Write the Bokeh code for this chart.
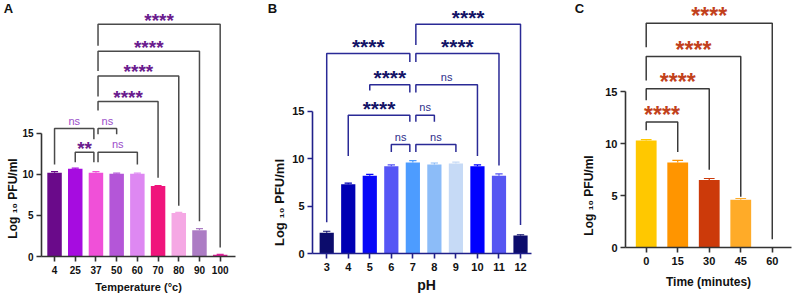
import math
from bokeh.plotting import figure
from bokeh.layouts import row
from bokeh.models import Range1d, FixedTicker, ColumnDataSource, Label
from bokeh.core.properties import value
from bokeh.embed import file_html
from bokeh.resources import INLINE

FONT = "Liberation Sans"
H = 293

# ---------------- Panel A : temperature ----------------
temp_labels = ["4", "25", "37", "50", "60", "70", "80", "90", "100"]
temp_values = [10.2, 10.7, 10.2, 10.1, 10.1, 8.6, 5.3, 3.2, 0.2]
temp_errors = [0.15, 0.08, 0.15, 0.05, 0.05, 0.05, 0.07, 0.2, 0.05]
temp_colors = ["#6a0a8a", "#a60ce0", "#f050d8", "#b456d8", "#de88f2",
               "#f0157c", "#f5a8e4", "#ac7cc4", "#e0209a"]
temp_pairs = [("37", "100"), ("37", "90"), ("37", "80"), ("37", "70"),
              ("4", "37"), ("37", "50"), ("25", "37"), ("37", "60")]
temp_marks = ["****", "****", "****", "****", "ns", "ns", "**", "ns"]
temp_levels = [28.3, 25.0, 22.0, 18.9, 15.6, 15.6, 12.7, 12.7]
temp_left_ends = [25.7, 22.6, 19.5, 17.8, 11.2, 14.9, 11.5, 11.5]
temp_right_ends = [1.1, 4.3, 6.2, 9.6, 14.3, 14.9, 11.5, 11.2]

# ---------------- Panel B : pH ----------------
ph_labels = ["3", "4", "5", "6", "7", "8", "9", "10", "11", "12"]
ph_values = [2.2, 7.3, 8.2, 9.2, 9.6, 9.4, 9.5, 9.2, 8.2, 1.9]
ph_errors = [0.15, 0.12, 0.15, 0.15, 0.2, 0.15, 0.15, 0.15, 0.2, 0.08]
ph_colors = ["#0c0c6c", "#0000b4", "#0808f8", "#5555f5", "#4d9cff",
             "#8cbcf8", "#c6daf6", "#0000ff", "#5656f2", "#0c0c6c"]
ph_pairs = [("7", "12"), ("3", "7"), ("7", "11"), ("5", "7"), ("7", "10"),
            ("4", "7"), ("7", "8"), ("6", "7"), ("7", "9")]
ph_marks = ["****", "****", "****", "****", "ns", "****", "ns", "ns", "ns"]
ph_levels = [24.2, 21.1, 21.1, 17.8, 17.8, 14.6, 14.6, 11.5, 11.5]
ph_left_ends = [22.0, 3.3, 20.2, 17.2, 17.0, 10.3, 13.9, 10.7, 10.7]
ph_right_ends = [3.0, 20.2, 9.3, 17.0, 10.3, 13.9, 13.9, 10.7, 10.7]

# ---------------- Panel C : time ----------------
time_labels = ["0", "15", "30", "45", "60"]
time_values = [10.3, 8.2, 6.5, 4.6, 0.0]
time_errors = [0.1, 0.2, 0.15, 0.12, 0.0]
time_colors = ["#ffc800", "#ff9500", "#cc3a0a", "#ffab28", "#ffc800"]
time_pairs = [("0", "60"), ("0", "45"), ("0", "30"), ("0", "15")]
time_marks = ["****", "****", "****", "****"]
time_levels = [21.6, 18.4, 15.3, 12.1]
time_left_ends = [19.3, 16.1, 14.2, 11.3]
time_right_ends = [0.8, 4.9, 7.5, 9.2]

Y_LABEL = "Log \u2081\u2080 PFU/ml"


def txt(p, text, x, y_from_top, size, angle=0.0):
    p.add_layout(Label(x=x, y=y_from_top, x_units="canvas",
                       y_units="canvas", text=text, angle=angle,
                       text_font=FONT, text_font_style="bold",
                       text_font_size=size, text_align="center",
                       text_baseline="middle", text_color="#111111"))


def panel(letter, cats, vals, errs, colors, pairs, marks, levels, lefts, rights,
          xlabel, cfg):
    # plot area: left edge bl, right edge width-br, bottom H-bb (pixels)
    fw = cfg["width"] - cfg["bl"] - cfg["br"]
    fh = H - cfg["bb"]
    ux = (cfg["x1"] - cfg["x0"]) / fw
    uy = cfg["y1"] / fh
    p = figure(width=cfg["width"], height=H, output_backend="svg",
               toolbar_location=None, min_border=0,
               x_range=Range1d(cfg["x0"] - cfg["bl"] * ux,
                               cfg["x1"] + cfg["br"] * ux),
               y_range=Range1d(-cfg["bb"] * uy, cfg["y1"]))
    p.outline_line_color = None
    p.grid.visible = False
    p.background_fill_color = "white"
    p.border_fill_color = "white"

    idx = list(range(len(cats)))
    src = ColumnDataSource(dict(x=idx, top=vals,
                                up=[v + e for v, e in zip(vals, errs)],
                                cl=[i - 0.17 for i in idx],
                                cr=[i + 0.17 for i in idx],
                                color=colors))
    p.vbar(x="x", top="top", width=cfg["bw"], fill_color="color",
           line_color=None, source=src)
    p.segment(x0="x", y0="top", x1="x", y1="up", line_color="color",
              line_width=1.2, source=src)
    p.segment(x0="cl", y0="up", x1="cr", y1="up", line_color="color",
              line_width=1.2, source=src)

    # significance brackets
    pos = {c: i for i, c in enumerate(cats)}
    piv = cfg["pivot"]
    off = cfg["off"]
    xs, ys, lx, ly, lt = [], [], [], [], []
    for (a, b), m, lev, le, re in zip(pairs, marks, levels, lefts, rights):
        xa = pos[a] + (off if a == piv else 0)
        xb = pos[b] - (off if b == piv else 0)
        xs.append([xa, xa, xb, xb])
        ys.append([le, lev, lev, re])
        lx.append((xa + xb) / 2)
        ly.append(lev)
        lt.append(m)
    p.multi_line(xs=xs, ys=ys, line_color=cfg["bracket"], line_width=1.5)

    stars = ColumnDataSource(dict(
        x=[x for x, t in zip(lx, lt) if t != "ns"],
        y=[y for y, t in zip(ly, lt) if t != "ns"],
        t=[t for t in lt if t != "ns"]))
    nss = ColumnDataSource(dict(
        x=[x for x, t in zip(lx, lt) if t == "ns"],
        y=[y for y, t in zip(ly, lt) if t == "ns"],
        t=[t for t in lt if t == "ns"]))
    p.text(x="x", y="y", text="t", source=stars, text_font=value(FONT),
           text_font_style="bold", text_font_size=cfg["starsize"],
           text_align="center", text_baseline="alphabetic",
           text_color=cfg["starcolor"], y_offset=cfg["staroff"])
    p.text(x="x", y="y", text="t", source=nss, text_font=value(FONT),
           text_font_size="11px", text_align="center",
           text_baseline="alphabetic", text_color=cfg["nscolor"],
           y_offset=-8)

    # axes, pinned at the plot-area edges
    ax = cfg["axis"]
    p.xaxis.ticker = FixedTicker(ticks=idx)
    p.xaxis.major_label_overrides = {i: c for i, c in enumerate(cats)}
    p.xaxis.fixed_location = 0
    p.xaxis.bounds = (cfg["x0"], cfg["x1"])
    p.yaxis.ticker = FixedTicker(ticks=[0, 5, 10, 15])
    p.yaxis.fixed_location = cfg["x0"]
    p.yaxis.bounds = (0, 15)
    for a in (p.xaxis, p.yaxis):
        a.axis_line_color = ax
        a.axis_line_width = 1.6
        a.major_tick_line_color = ax
        a.major_tick_line_width = 1.6
        a.major_tick_in = 0
        a.major_tick_out = 5
        a.minor_tick_in = 0
        a.minor_tick_out = 0
        a.major_label_text_font = FONT
        a.major_label_text_font_style = "bold"
        a.major_label_text_font_size = cfg["ticksize"]
        a.major_label_text_color = "#111111"
        a.major_label_standoff = 3
    p.xaxis.major_label_standoff = cfg["xtickstand"]

    # axis titles (centred on the 0-15 axis span, as in the original) and letter
    txt(p, Y_LABEL, cfg["ylab_x"], cfg["ylab_y"], cfg["ylabsize"], math.pi / 2)
    txt(p, xlabel, cfg["xlab_x"], cfg["xlab_y"], cfg["xlabsize"])
    txt(p, letter, cfg["letter_x"], 8, "13px")
    return p


pa = panel("A", temp_labels, temp_values, temp_errors, temp_colors,
           temp_pairs, temp_marks, temp_levels, temp_left_ends, temp_right_ends,
           "Temperature (\u00b0c)",
           dict(width=262, bl=41, br=27, bb=37, x0=-0.63, x1=8.74, y1=31.2,
                bw=0.70, pivot="37", off=0.1, bracket="#4a4a4a",
                starsize="19px", starcolor="#6a1b8e", staroff=-4,
                nscolor="#9b4dca", axis="#333333", ticksize="10px",
                xtickstand=4, ylabsize="12px", ylab_x=12, ylab_y=198,
                xlabsize="11px", xlab_x=138, xlab_y=286, letter_x=8))
pb = panel("B", ph_labels, ph_values, ph_errors, ph_colors,
           ph_pairs, ph_marks, ph_levels, ph_left_ends, ph_right_ends,
           "pH",
           dict(width=273, bl=50, br=4, bb=40, x0=-0.66, x1=9.51, y1=26.7,
                bw=0.66, pivot="7", off=0.14, bracket="#2a2a96",
                starsize="21px", starcolor="#141466", staroff=-7,
                nscolor="#2e2e8a", axis="#20208a", ticksize="11px",
                xtickstand=4, ylabsize="13px", ylab_x=17, ylab_y=202,
                xlabsize="14px", xlab_x=164, xlab_y=284, letter_x=10))
pc = panel("C", time_labels, time_values, time_errors, time_colors,
           time_pairs, time_marks, time_levels, time_left_ends, time_right_ends,
           "Time (minutes)",
           dict(width=259, bl=90, br=3, bb=46, x0=-0.657, x1=4.61, y1=23.8,
                bw=0.66, pivot="0", off=0.0, bracket="#3a3a3a",
                starsize="23px", starcolor="#c2411c", staroff=-7,
                nscolor="#c2411c", axis="#333333", ticksize="11px",
                xtickstand=4, ylabsize="12px", ylab_x=53, ylab_y=195,
                xlabsize="12px", xlab_x=173, xlab_y=281, letter_x=44))

layout = row(pa, pb, pc)
open("out.html", "w").write(file_html(layout, INLINE))
